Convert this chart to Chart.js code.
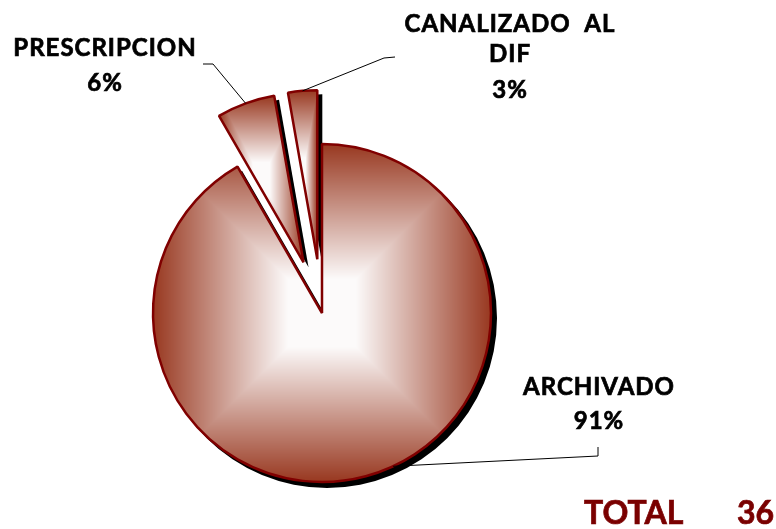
<!DOCTYPE html>
<html>
<head>
<meta charset="utf-8">
<script src="https://cdn.jsdelivr.net/npm/chart.js@4.4.0/dist/chart.umd.min.js"></script>
<style>
html, body { margin: 0; padding: 0; background: #fff; }
#contenedor { width: 776px; height: 529px; position: relative; }
</style>
</head>
<body>
<div id="contenedor"><canvas id="graficaPastel"></canvas></div>
<script>
// datos de la grafica
const categorias = ['ARCHIVADO', 'PRESCRIPCION', 'CANALIZADO  AL\nDIF'];
const casos = [33, 2, 1];
const porcentajes = ['91%', '6%', '3%'];
const total = 36;

// cuanto se separan las rebanadas del centro (px)
const separacion = [0, 54, 54];
const sombra = 5;

// colores del degradado (borde -> centro)
const colorBorde = [152, 56, 32];
const colorCentro = [252, 250, 250];

// posicion de cada etiqueta y su linea guia
const etiquetas = [
    { x: 599, lineas: [395, 429], guia: [[598, 447], [598, 456]], anclaje: 0.47 },
    { x: 105, lineas: [56, 91], guia: [[203, 64], [213, 64]], anclaje: 0.5 },
    { x: 510, lineas: [32, 62, 98], guia: [[395, 57], [384, 58]], anclaje: 0.5 }
];

const fuente = '"Lato", "Open Sans", sans-serif';

// caja que encierra una rebanada
function cajaRebanada(el) {
    const R = el.outerRadius;
    const pts = [[el.x, el.y]];
    pts.push([el.x + Math.cos(el.startAngle) * R, el.y + Math.sin(el.startAngle) * R]);
    pts.push([el.x + Math.cos(el.endAngle) * R, el.y + Math.sin(el.endAngle) * R]);
    const q = Math.PI / 2;
    for (let k = Math.ceil(el.startAngle / q); k * q <= el.endAngle; k++) {
        pts.push([el.x + Math.cos(k * q) * R, el.y + Math.sin(k * q) * R]);
    }
    const xs = pts.map(p => p[0]), ys = pts.map(p => p[1]);
    return { x0: Math.min(...xs), x1: Math.max(...xs), y0: Math.min(...ys), y1: Math.max(...ys) };
}

// degradado "rectangular" (blanco al centro, rojo en las orillas)
function crearPatron(chart, caja) {
    const w = chart.width, h = chart.height;
    const lienzo = document.createElement('canvas');
    lienzo.width = w;
    lienzo.height = h;
    const c = lienzo.getContext('2d');
    const img = c.createImageData(w, h);
    const cx = (caja.x0 + caja.x1) / 2, cy = (caja.y0 + caja.y1) / 2;
    const hw = (caja.x1 - caja.x0) / 2, hh = (caja.y1 - caja.y0) / 2;
    const xa = Math.max(0, Math.floor(caja.x0) - 4), xb = Math.min(w, Math.ceil(caja.x1) + 4);
    const ya = Math.max(0, Math.floor(caja.y0) - 4), yb = Math.min(h, Math.ceil(caja.y1) + 4);
    for (let y = ya; y < yb; y++) {
        for (let x = xa; x < xb; x++) {
            let t = Math.max(Math.abs(x + 0.5 - cx) / hw, Math.abs(y + 0.5 - cy) / hh);
            // casi blanco cerca del centro, oscurece hacia la orilla
            t = Math.min(1, Math.max(0, (t - 0.2) / 0.8));
            const i = (y * w + x) * 4;
            img.data[i] = colorCentro[0] + (colorBorde[0] - colorCentro[0]) * t;
            img.data[i + 1] = colorCentro[1] + (colorBorde[1] - colorCentro[1]) * t;
            img.data[i + 2] = colorCentro[2] + (colorBorde[2] - colorCentro[2]) * t;
            img.data[i + 3] = 255;
        }
    }
    c.putImageData(img, 0, 0);
    return chart.ctx.createPattern(lienzo, 'no-repeat');
}

const pluginRebanadas = {
    id: 'rebanadas',
    afterDatasetsUpdate(chart) {
        // separa las rebanadas pequeñas
        const meta = chart.getDatasetMeta(0);
        meta.data.forEach((el, i) => {
            const medio = (el.startAngle + el.endAngle) / 2;
            el.x += Math.cos(medio) * separacion[i];
            el.y += Math.sin(medio) * separacion[i];
        });
    },
    beforeDatasetsDraw(chart) {
        const ctx = chart.ctx;
        const meta = chart.getDatasetMeta(0);
        // sombras negras
        ctx.save();
        ctx.fillStyle = '#000';
        meta.data.forEach(el => {
            ctx.beginPath();
            ctx.moveTo(el.x + sombra, el.y + sombra);
            ctx.arc(el.x + sombra, el.y + sombra, el.outerRadius + 1, el.startAngle, el.endAngle);
            ctx.closePath();
            ctx.fill();
        });
        ctx.restore();
        // relleno con degradado
        meta.data.forEach(el => {
            const patron = crearPatron(chart, cajaRebanada(el));
            el.options = Object.assign({}, el.options, { backgroundColor: patron });
        });
    },
    afterDraw(chart) {
        const ctx = chart.ctx;
        const meta = chart.getDatasetMeta(0);
        ctx.save();
        // lineas guia
        ctx.strokeStyle = '#000';
        ctx.lineWidth = 1;
        meta.data.forEach((el, i) => {
            const e = etiquetas[i];
            const a = el.startAngle + (el.endAngle - el.startAngle) * e.anclaje;
            ctx.beginPath();
            ctx.moveTo(e.guia[0][0], e.guia[0][1]);
            for (let k = 1; k < e.guia.length; k++) ctx.lineTo(e.guia[k][0], e.guia[k][1]);
            ctx.lineTo(el.x + Math.cos(a) * el.outerRadius, el.y + Math.sin(a) * el.outerRadius);
            ctx.stroke();
        });
        // textos
        ctx.fillStyle = '#000';
        ctx.strokeStyle = '#000';
        ctx.lineWidth = 0.7;
        ctx.textAlign = 'center';
        ctx.textBaseline = 'alphabetic';
        ctx.font = 'bold 24px ' + fuente;
        ctx.letterSpacing = '1px';
        categorias.forEach((cat, i) => {
            const e = etiquetas[i];
            const textos = cat.split('\n').concat([porcentajes[i]]);
            textos.forEach((t, k) => {
                ctx.fillText(t, e.x, e.lineas[k]);
                ctx.strokeText(t, e.x, e.lineas[k]);
            });
        });
        // total
        ctx.fillStyle = '#7a0000';
        ctx.strokeStyle = '#7a0000';
        ctx.font = 'bold 32px ' + fuente;
        ctx.textAlign = 'left';
        ctx.letterSpacing = '0px';
        ctx.fillText('TOTAL', 584, 524);
        ctx.strokeText('TOTAL', 584, 524);
        ctx.fillText(String(total), 737, 524);
        ctx.strokeText(String(total), 737, 524);
        ctx.restore();
    }
};

document.addEventListener('DOMContentLoaded', function() {
    const ctx = document.getElementById('graficaPastel').getContext('2d');
    new Chart(ctx, {
        type: 'pie',
        data: {
            labels: categorias,
            datasets: [{
                data: casos,
                backgroundColor: '#963822',
                borderColor: '#800000',
                borderWidth: 2.5
            }]
        },
        options: {
            responsive: true,
            maintainAspectRatio: false,
            animation: false,
            radius: 169,
            layout: { padding: { top: 97, left: 0, right: 132, bottom: 0 } },
            events: [],
            plugins: {
                legend: { display: false },
                tooltip: { enabled: false }
            }
        },
        plugins: [pluginRebanadas]
    });
});
</script>
</body>
</html>
